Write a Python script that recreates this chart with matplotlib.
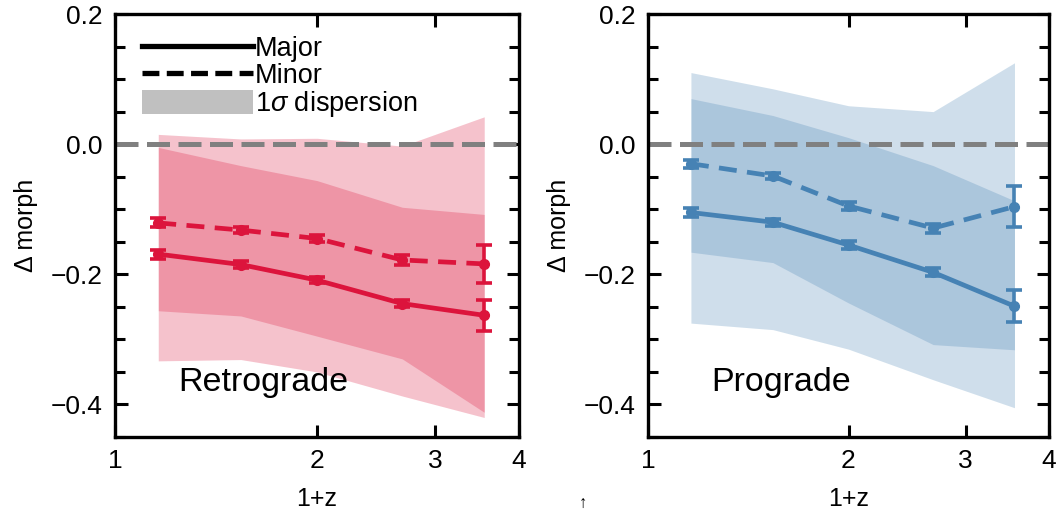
import matplotlib
matplotlib.use("Agg")
import matplotlib.pyplot as plt
from matplotlib.lines import Line2D
from matplotlib.patches import Patch
from matplotlib.ticker import FixedLocator, FuncFormatter, NullLocator, MultipleLocator

plt.rcParams['font.family'] = ['Liberation Sans', 'DejaVu Sans']
plt.rcParams['mathtext.fontset'] = 'custom'
plt.rcParams['mathtext.it'] = 'Liberation Sans:italic'

# ---- data ----
one_plus_z = [1.16, 1.54, 2.0, 2.68, 3.55]

retro_major = [-0.169, -0.185, -0.209, -0.245, -0.263]
retro_major_err = [0.007, 0.005, 0.005, 0.006, 0.024]
retro_minor = [-0.121, -0.132, -0.145, -0.178, -0.184]
retro_minor_err = [0.007, 0.005, 0.005, 0.007, 0.029]
retro_outer_hi = [0.015, 0.008, 0.009, -0.003, 0.042]
retro_outer_lo = [-0.333, -0.331, -0.350, -0.387, -0.420]
retro_inner_hi = [-0.005, -0.033, -0.056, -0.097, -0.108]
retro_inner_lo = [-0.256, -0.264, -0.295, -0.330, -0.412]

pro_major = [-0.105, -0.120, -0.155, -0.197, -0.249]
pro_major_err = [0.007, 0.005, 0.006, 0.006, 0.025]
pro_minor = [-0.030, -0.049, -0.095, -0.129, -0.096]
pro_minor_err = [0.006, 0.005, 0.006, 0.007, 0.032]
pro_outer_hi = [0.110, 0.085, 0.059, 0.050, 0.125]
pro_outer_lo = [-0.275, -0.285, -0.315, -0.362, -0.405]
pro_inner_hi = [0.070, 0.044, 0.010, -0.033, -0.087]
pro_inner_lo = [-0.166, -0.182, -0.244, -0.308, -0.316]

panel_names = ["Retrograde", "Prograde"]
colors = ["#dc143c", "#4682b4"]
xticks = [1, 2, 3, 4]
ymajor = [-0.4, -0.2, 0.0, 0.2]
legend_labels = ["Major", "Minor", r"1$\sigma$ dispersion"]

W, H = 1061, 512
fig = plt.figure(figsize=(W / 100, H / 100), dpi=100)
ax1 = fig.add_axes([115 / W, (H - 437) / H, 404 / W, 423 / H])
ax2 = fig.add_axes([648 / W, (H - 437) / H, 401 / W, 423 / H])

panels = [
    (ax1, retro_major, retro_major_err, retro_minor, retro_minor_err,
     retro_outer_lo, retro_outer_hi, retro_inner_lo, retro_inner_hi),
    (ax2, pro_major, pro_major_err, pro_minor, pro_minor_err,
     pro_outer_lo, pro_outer_hi, pro_inner_lo, pro_inner_hi),
]

fmt = FuncFormatter(lambda v, p: ("%.1f" % v).replace("-", "\u2212"))

for i, (ax, maj, maje, mnr, mnre, olo, ohi, ilo, ihi) in enumerate(panels):
    c = colors[i]
    ax.set_xscale('log')
    ax.fill_between(one_plus_z, olo, ohi, color=c, alpha=0.26, lw=0, zorder=1)
    ax.fill_between(one_plus_z, ilo, ihi, color=c, alpha=0.26, lw=0, zorder=1)
    ax.axhline(0.0, color="#808080", lw=3.6, dashes=(4.6, 1.7), zorder=2)
    ax.errorbar(one_plus_z, maj, yerr=maje, color=c, lw=3.4, marker='o', ms=7,
                capsize=6, capthick=2.6, elinewidth=2.6, zorder=4)
    l = ax.errorbar(one_plus_z, mnr, yerr=mnre, color=c, lw=3.4, marker='o', ms=7,
                    capsize=6, capthick=2.6, elinewidth=2.6, zorder=4)
    l[0].set_dashes((3.8, 2.2))
    ax.set_xlim(1, 4)
    ax.set_ylim(-0.45, 0.2)
    ax.xaxis.set_major_locator(FixedLocator(xticks))
    ax.xaxis.set_minor_locator(NullLocator())
    ax.xaxis.set_major_formatter(FuncFormatter(lambda v, p: "%d" % round(v)))
    ax.yaxis.set_major_locator(FixedLocator(ymajor))
    ax.yaxis.set_minor_locator(MultipleLocator(0.05))
    ax.yaxis.set_major_formatter(fmt)
    ax.tick_params(which='both', direction='in', top=True, right=True,
                   width=2.2, labelsize=19, colors='black')
    ax.tick_params(which='major', length=9, pad=9)
    ax.tick_params(which='minor', length=7)
    for s in ax.spines.values():
        s.set_linewidth(2.4)
    ax.set_xlabel("1+z", fontsize=18, labelpad=10)
    ax.set_ylabel("\u0394 morph", fontsize=18, labelpad=9)
    ax.text(0.157, 0.128, panel_names[i], transform=ax.transAxes, fontsize=24.5,
            va='center', ha='left', zorder=5)

handles = [Line2D([], [], color='black', lw=3.8),
           Line2D([], [], color='black', lw=3.8, dashes=(3.2, 1.4)),
           Patch(facecolor='#c0c0c0', edgecolor='none')]
ax1.legend(handles, legend_labels, loc='upper left', bbox_to_anchor=(0.04, 0.975),
           frameon=False, fontsize=19.5, handlelength=4.1, handletextpad=0.08,
           labelspacing=0.0, borderaxespad=0.0, handleheight=0.95)

fig.text(583 / W, 0.002, "\u2191", fontsize=12, ha='center', va='bottom')

fig.savefig("out.png", dpi=100)
